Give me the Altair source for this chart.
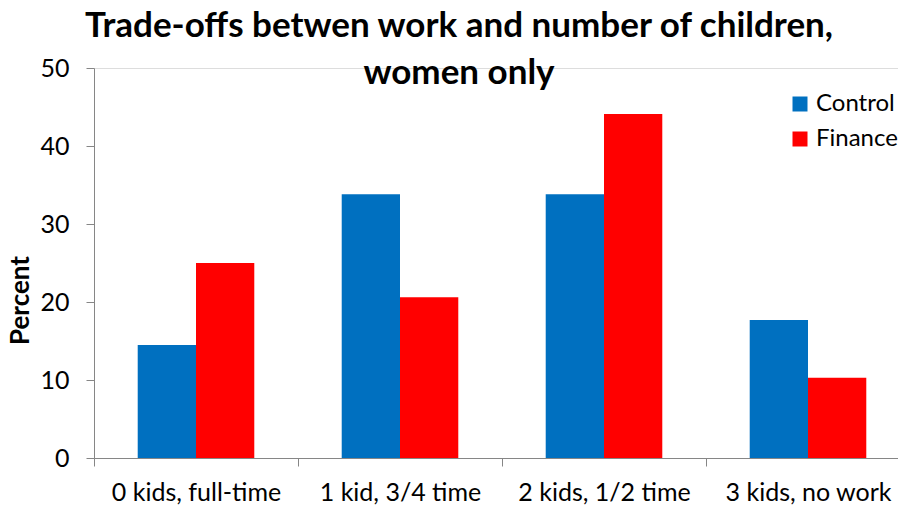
import altair as alt
import pandas as pd

# Share of women choosing each work/children combination, by group
categories = ["0 kids, full-time", "1 kid, 3/4 time", "2 kids, 1/2 time", "3 kids, no work"]
groups = ["Control", "Finance"]
control = [14.5, 33.8, 33.8, 17.7]
finance = [25.0, 20.6, 44.1, 10.3]
colors = ["#0070C0", "#FF0000"]
y_ticks = [0, 10, 20, 30, 40, 50]

rows = []
for cat, c, f in zip(categories, control, finance):
    rows.append({"option": cat, "group": "Control", "pct": c})
    rows.append({"option": cat, "group": "Finance", "pct": f})
df = pd.DataFrame(rows)

FONT = "Lato"
AXIS_GREY = "#868686"

bars = alt.Chart(df).mark_bar().encode(
    x=alt.X(
        "option:N",
        sort=categories,
        title=None,
        scale=alt.Scale(paddingInner=0, paddingOuter=0, range=[0, 816]),
        axis=alt.Axis(
            labelAngle=0,
            labelFont=FONT,
            labelFontSize=25,
            labelColor="black",
            labelBaseline="alphabetic",
            labelPadding=34,
            tickBand="extent",
            tickSize=8,
            tickColor=AXIS_GREY,
            domainColor=AXIS_GREY,
            grid=False,
        ),
    ),
    xOffset=alt.XOffset(
        "group:N", sort=groups, scale=alt.Scale(paddingInner=0, paddingOuter=0.75)
    ),
    y=alt.Y(
        "pct:Q",
        scale=alt.Scale(domain=[0, 50], nice=False),
        axis=alt.Axis(
            values=y_ticks,
            title="Percent",
            titleFont=FONT,
            titleFontSize=26,
            titleFontWeight="bold",
            titleColor="black",
            titleAngle=-90,
            titleBaseline="alphabetic",
            titleAnchor="middle",
            titleX=-66,
            titleY=232,
            labelFont=FONT,
            labelFontSize=25,
            labelColor="black",
            labelPadding=17,
            tickSize=8,
            tickColor=AXIS_GREY,
            domainColor=AXIS_GREY,
            grid=False,
        ),
    ),
    color=alt.Color(
        "group:N",
        sort=groups,
        scale=alt.Scale(domain=groups, range=colors),
        legend=alt.Legend(
            title=None,
            orient="none",
            legendX=694,
            legendY=24,
            padding=0,
            symbolType="square",
            symbolSize=225,
            symbolStrokeWidth=0,
            symbolOpacity=1,
            labelFont=FONT,
            labelFontSize=24,
            labelColor="black",
            labelOffset=4,
            rowPadding=11,
        ),
    ),
)

chart = bars.properties(
    width=804,
    height=390,
    autosize=alt.AutoSizeParams(type="none"),
    padding={"left": 94, "top": 68, "right": 0, "bottom": 48},
    title=alt.TitleParams(
        text=["Trade-offs betwen work and number of children,", "women only"],
        font=FONT,
        fontSize=35,
        fontWeight="bold",
        color="black",
        anchor="middle",
        frame="group",
        baseline="alphabetic",
        lineHeight=47,
        dx=-37,
        dy=63,
        offset=0,
    ),
).configure_view(stroke=None).configure(background="white")

chart.save("out.html", embed_options={"renderer": "svg", "actions": False})
